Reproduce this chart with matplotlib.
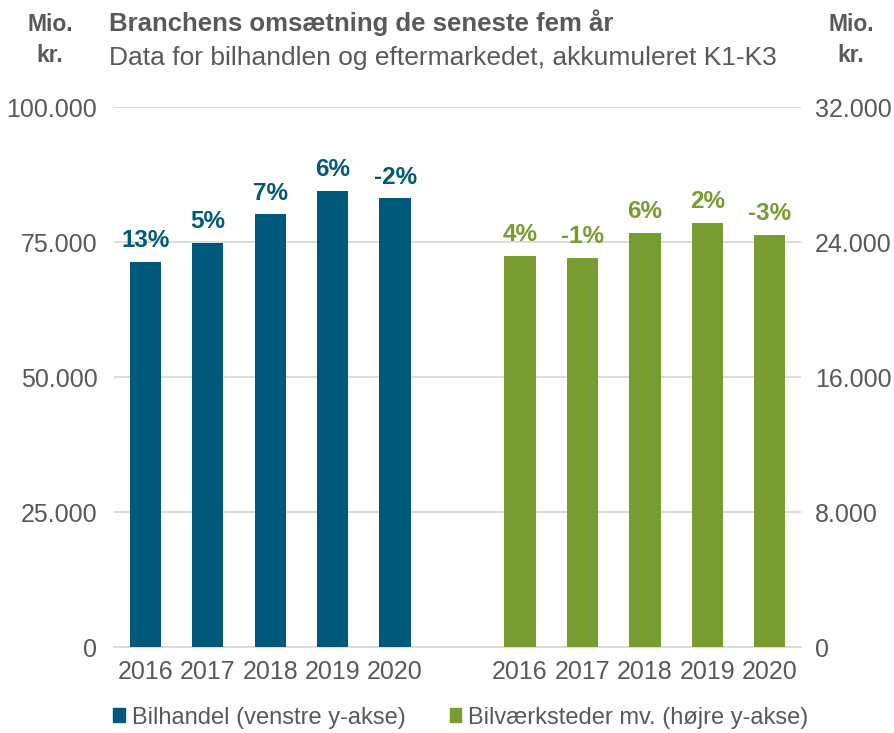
import matplotlib.pyplot as plt
from matplotlib.patches import Patch

plt.rcParams['font.family'] = ['Liberation Sans', 'DejaVu Sans']

years = ['2016', '2017', '2018', '2019', '2020']
bilhandel = [71300, 74900, 80100, 84500, 83100]
bilhandel_pct = ['13%', '5%', '7%', '6%', '-2%']
vaerksted = [23180, 23060, 24520, 25120, 24440]
vaerksted_pct = ['4%', '-1%', '6%', '2%', '-3%']

blue = '#00587A'
green = '#789C2F'
grey = '#595959'

fig = plt.figure(figsize=(8.95, 7.33), dpi=100)
ax = fig.add_axes([0.1274, 0.1173, 0.7676, 0.7367])
ax2 = ax.twinx()

x_left = list(range(5))
x_right = [i + 6 for i in range(5)]

ax.bar(x_left, bilhandel, width=0.5, color=blue, zorder=3)
ax2.bar(x_right, vaerksted, width=0.5, color=green, zorder=3)

for x, v, t in zip(x_left, bilhandel, bilhandel_pct):
    ax.text(x, v + 1800, t, ha='center', va='bottom', color=blue,
            fontsize=17.5, fontweight='bold')
for x, v, t in zip(x_right, vaerksted, vaerksted_pct):
    ax2.text(x, v + 580, t, ha='center', va='bottom', color=green,
             fontsize=17.5, fontweight='bold')

ax.set_xlim(-0.5, 10.5)
ax.set_ylim(0, 100000)
ax2.set_ylim(0, 32000)
ax.set_yticks([0, 25000, 50000, 75000, 100000])
ax.set_yticklabels(['0', '25.000', '50.000', '75.000', '100.000'])
ax2.set_yticks([0, 8000, 16000, 24000, 32000])
ax2.set_yticklabels(['0', '8.000', '16.000', '24.000', '32.000'])
ax.set_xticks(x_left + x_right)
ax.set_xticklabels(years + years)

ax.grid(axis='y', color='#D9D9D9', linewidth=1.3, zorder=0)
ax.set_axisbelow(True)
for a in (ax, ax2):
    for s in a.spines.values():
        s.set_visible(False)
    a.tick_params(length=0, labelsize=18, colors=grey)
ax.tick_params(axis='y', pad=12)
ax2.tick_params(axis='y', pad=10)
ax.tick_params(axis='x', pad=9)
ax.spines['bottom'].set_visible(True)
ax.spines['bottom'].set_color('#D9D9D9')
ax.spines['bottom'].set_linewidth(1.3)

fig.text(0.122, 0.988, 'Branchens omsætning de seneste fem år', fontsize=18.5,
         fontweight='bold', color=grey, va='top')
fig.text(0.122, 0.937, 'Data for bilhandlen og eftermarkedet, akkumuleret K1-K3',
         fontsize=19, color=grey, va='top')
fig.text(0.056, 0.982, 'Mio.\nkr.', fontsize=16.5, fontweight='bold', color=grey,
         va='top', ha='center', linespacing=1.45)
fig.text(0.951, 0.982, 'Mio.\nkr.', fontsize=16.5, fontweight='bold', color=grey,
         va='top', ha='center', linespacing=1.45)

handles = [Patch(color=blue, label='Bilhandel (venstre y-akse)'),
           Patch(color=green, label='Bilværksteder mv. (højre y-akse)')]
fig.legend(handles=handles, loc='center', bbox_to_anchor=(0.515, 0.021),
           ncol=2, frameon=False, fontsize=17, handlelength=0.5,
           handleheight=0.55, handletextpad=0.3, columnspacing=1.85,
           labelcolor=grey)

fig.savefig('out.png', dpi=100)
